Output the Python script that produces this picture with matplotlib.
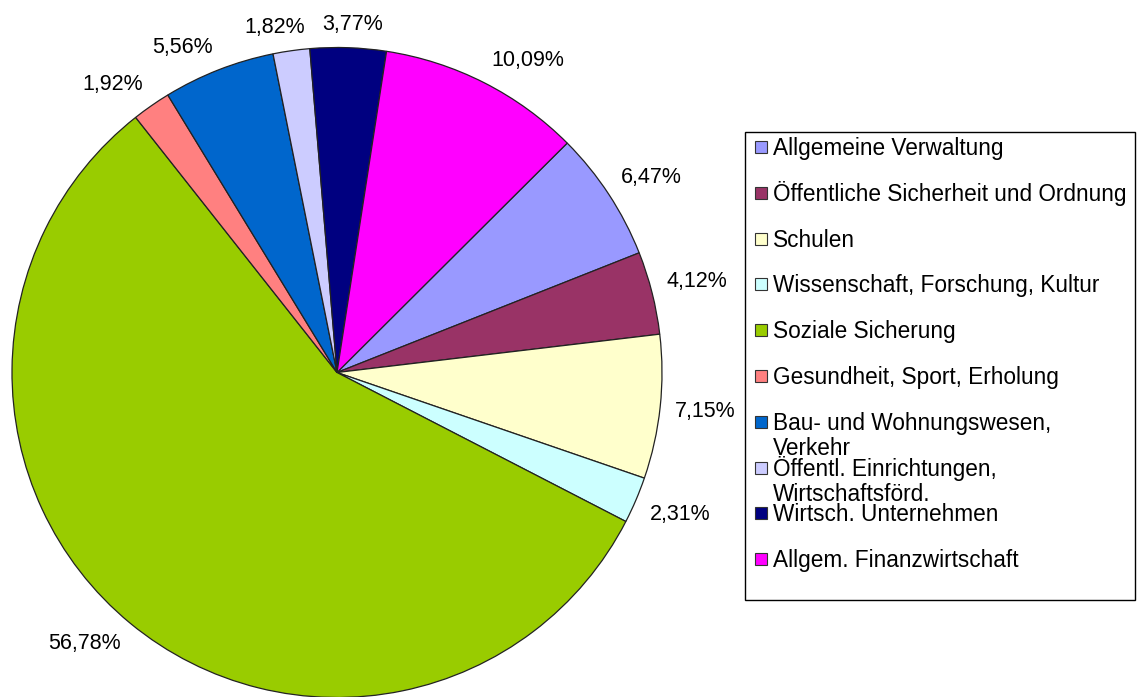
import matplotlib
matplotlib.use('Agg')
import matplotlib.pyplot as plt
import numpy as np
from matplotlib.patches import Rectangle

plt.rcParams['font.family'] = ['Liberation Sans', 'DejaVu Sans']

categories = ['Allgemeine Verwaltung', 'Öffentliche Sicherheit und Ordnung', 'Schulen',
              'Wissenschaft, Forschung, Kultur', 'Soziale Sicherung',
              'Gesundheit, Sport, Erholung', 'Bau- und Wohnungswesen,\nVerkehr',
              'Öffentl. Einrichtungen,\nWirtschaftsförd.', 'Wirtsch. Unternehmen',
              'Allgem. Finanzwirtschaft']
values = [6.47, 4.12, 7.15, 2.31, 56.78, 1.92, 5.56, 1.82, 3.77, 10.09]
colors = ['#9999FF', '#993366', '#FFFFCC', '#CCFFFF', '#99CC00',
          '#FF8080', '#0066CC', '#CCCCFF', '#000080', '#FF00FF']
pct_labels = [('%.2f%%' % v).replace('.', ',') for v in values]

W, H = 1138, 697
fig = plt.figure(figsize=(W / 100, H / 100), dpi=100)

# pie area in pixels
cx, cy, r = 337, 372.5, 325
ax = fig.add_axes([(cx - r) / W, (H - cy - r) / H, 2 * r / W, 2 * r / H])
wedges, _ = ax.pie(values, colors=colors, startangle=44.9, counterclock=False,
                   radius=1, wedgeprops=dict(edgecolor='#222222', linewidth=0.9))
ax.set_aspect('auto')
ax.set_xlim(-1, 1)
ax.set_ylim(-1, 1)

# percentage labels: anchor on the mid ray just outside the rim,
# box side/corner facing the pie sits on the anchor (Excel "outside end")
renderer = fig.canvas.get_renderer()
offset = 15
for w, lab in zip(wedges, pct_labels):
    ang = np.deg2rad((w.theta1 + w.theta2) / 2)
    ux, uy = np.cos(ang), np.sin(ang)
    t = ax.text(0, 0, lab, ha='center', va='center', fontsize=15.5, clip_on=False)
    bb = t.get_window_extent(renderer)
    hw, hh = bb.width / 2, bb.height / 2 - 2
    d = r + offset
    px = d * ux + hw * np.clip(3.5 * ux, -1, 1)
    py = d * uy + hh * np.clip(3.5 * uy, -1, 1)
    t.set_position((px / r, py / r))


# legend drawn by hand (fixed row spacing, multi-line entries overflow)
def fx(px):
    return px / W


def fy(py):
    return 1 - py / H


fig.add_artist(Rectangle((fx(745), fy(600)), fx(1135) - fx(745), fy(132) - fy(600),
                         transform=fig.transFigure, facecolor='white',
                         edgecolor='black', linewidth=1))
for i, (name, col) in enumerate(zip(categories, colors)):
    y = 147 + i * 45.8
    fig.add_artist(Rectangle((fx(755), fy(y + 6)), fx(12), 12 / H,
                             transform=fig.transFigure, facecolor=col,
                             edgecolor='#333333', linewidth=0.8))
    for j, line in enumerate(name.split('\n')):
        fig.text(fx(773), fy(y + 8 + j * 25.5), line, fontsize=16.3,
                 va='baseline', ha='left')

fig.savefig('out.png', dpi=100)
